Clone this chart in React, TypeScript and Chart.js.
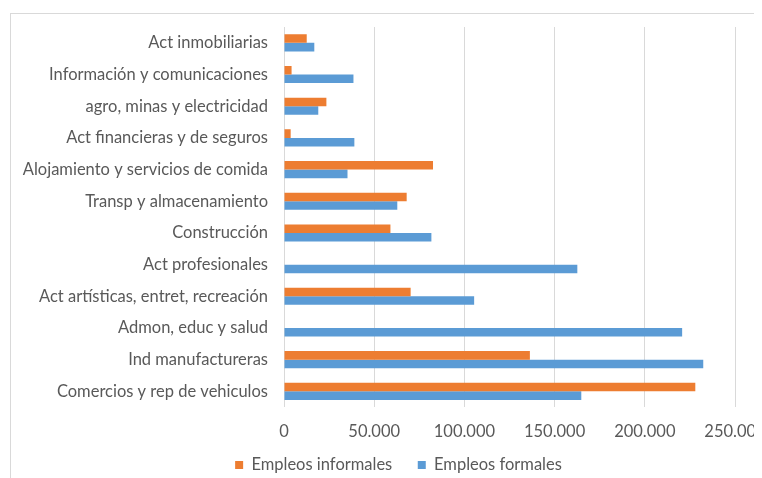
import React, { useEffect, useRef } from "react";
import { Chart, registerables } from "chart.js";

Chart.register(...registerables);

const categories = [
  "Act inmobiliarias",
  "Información y comunicaciones",
  "agro, minas y electricidad",
  "Act financieras y de seguros",
  "Alojamiento y servicios de comida",
  "Transp y almacenamiento",
  "Construcción",
  "Act profesionales",
  "Act artísticas, entret, recreación",
  "Admon, educ y salud",
  "Ind manufactureras",
  "Comercios y rep de vehiculos",
];

const empleosInformales = [12600, 4200, 23500, 3700, 82600, 68000, 59000, 0, 70200, 0, 136300, 228000];
const empleosFormales = [16800, 38500, 19000, 39000, 35200, 62800, 81700, 162600, 105400, 220700, 232400, 164800];

const xTicks = [0, 50000, 100000, 150000, 200000, 250000];

const fmt = (v: number) => String(v).replace(/\B(?=(\d{3})+(?!\d))/g, ".");

const FONT = "Lato";
const FS = 16.5;
const TEXT = "#595959";
const LEGEND_LIFT = 25.75;

const legendLift = {
  id: "legendLift",
  afterLayout(chart: any) {
    const lg = chart.legend;
    if (lg) {
      lg.top -= LEGEND_LIFT;
      lg.bottom -= LEGEND_LIFT;
    }
  },
};

export default function App() {
  const ref = useRef<HTMLCanvasElement | null>(null);

  useEffect(() => {
    document.documentElement.style.overflow = "hidden";
    const canvas = ref.current!;
    const chart = new Chart(canvas, {
      type: "bar",
      data: {
        labels: categories,
        datasets: [
          {
            label: "Empleos informales",
            data: empleosInformales,
            backgroundColor: "#ED7D31",
            barPercentage: 1,
            categoryPercentage: 0.54,
          },
          {
            label: "Empleos formales",
            data: empleosFormales,
            backgroundColor: "#5B9BD5",
            barPercentage: 1,
            categoryPercentage: 0.54,
          },
        ],
      },
      options: {
        indexAxis: "y",
        responsive: false,
        animation: false,
        layout: { padding: { top: 13, left: 0, right: 0, bottom: 1 } },
        scales: {
          x: {
            min: 0,
            max: 250000,
            afterBuildTicks: (scale: any) => {
              scale.ticks = xTicks.map((v) => ({ value: v }));
            },
            grid: { color: "#d9d9d9", drawTicks: false, lineWidth: 1 },
            border: { display: false },
            ticks: {
              color: TEXT,
              font: { family: FONT, size: FS },
              padding: 15,
              maxRotation: 0,
              callback: (v: any) => fmt(Number(v)),
            },
          },
          y: {
            grid: { display: false, drawTicks: true, tickLength: 13 },
            border: { display: false },
            afterFit: (scale: any) => {
              scale.width = 273;
            },
            ticks: {
              color: TEXT,
              font: { family: FONT, size: FS },
              padding: 3,
              autoSkip: false,
            },
          },
          yPad: {
            type: "linear",
            axis: "y",
            position: "right",
            grid: { display: false, drawTicks: false },
            border: { display: false },
            ticks: { display: false },
            afterFit: (scale: any) => {
              scale.width = 51;
            },
          },
        },
        plugins: {
          legend: {
            position: "bottom",
            labels: {
              color: TEXT,
              font: { family: FONT, size: FS },
              boxWidth: 8,
              boxHeight: 8,
              padding: 25.5,
            },
          },
          tooltip: { enabled: false },
        },
      },
      plugins: [legendLift],
    });
    return () => chart.destroy();
  }, []);

  return (
    <div
      style={{
        marginLeft: 2,
        marginTop: 5,
        width: 751,
        height: 470,
        borderTop: "1px solid #d9d9d9",
        borderLeft: "1px solid #d9d9d9",
        overflow: "hidden",
        position: "relative",
      }}
    >
      <canvas ref={ref} width={775} height={496} style={{ display: "block" }} />
    </div>
  );
}
